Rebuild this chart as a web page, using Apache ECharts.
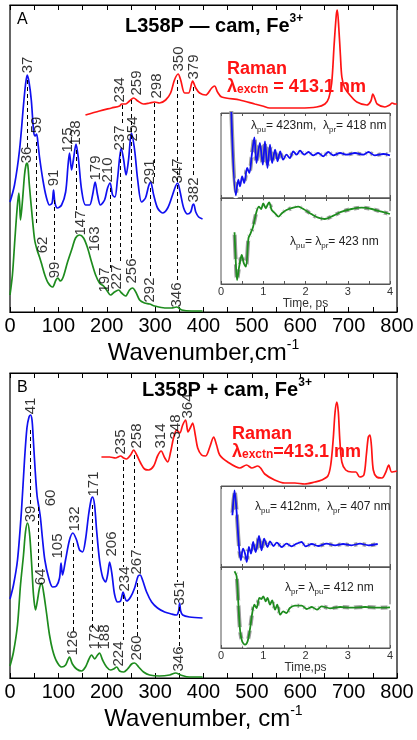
<!DOCTYPE html>
<html><head><meta charset="utf-8">
<script src="https://cdn.jsdelivr.net/npm/echarts@6/dist/echarts.min.js"></script>
<style>html,body{margin:0;padding:0;background:#fff}#c{width:417px;height:740px}</style>
</head><body><div id="c"></div>
<script>
// ---------- Panel A (L358P - cam) : [wavenumber cm-1, intensity a.u.] ----------
const blueA = [[0,110],[9.3,127],[19.7,162],[27.9,207],[32,227],[35.6,237],[39.3,230],[44,212],[49,180],[52,176],[55,178],[58,168],[61,155],[68,132],[75,115],[81.7,107],[87,109],[90,122],[93,109],[98,104],[106.6,107],[115,120],[120,147],[123,159],[127.3,142],[131,152],[136.5,168],[141.7,152],[148,122],[156,107],[164.5,107],[170.7,117],[176,130],[181,117],[187,107],[195.5,112],[201.7,124],[207,129],[212,117],[217,115],[222,132],[230,164],[235,152],[240,137],[245,152],[251,179],[257.6,162],[264,132],[272,110],[280,114],[286.6,126],[290.7,130],[297,117],[305,104],[315.5,99],[326,104],[336,117],[342.4,126],[346.6,129],[351.7,120],[359,104],[367,98],[373.5,100],[377.6,107],[379.7,108],[384,100],[390,95],[398,93]];
const greenA = [[0,17],[5,37],[10,72],[14.5,102],[18.2,119],[20,108],[21.7,92],[25.9,112],[30,137],[33,147],[35,149],[37,146],[40,127],[46,95],[51,72],[56,62],[61,55],[66,47],[72,37],[79,29],[88,25],[95,32],[99,34],[104,31],[110,35],[119,50],[128.6,64],[135.5,74],[143.8,77],[152,74],[160.4,64],[168.6,50],[177,37],[185,29],[193.5,26],[199.7,22],[208,17],[216,20],[224.5,22],[230.7,19],[239,16],[247,22],[253.5,24],[260,20],[268,12],[278,9],[288.6,8],[299,6],[320,4],[334,4],[344.5,5],[355,2],[375,1],[398,1]];
const redA = [[156,197],[185,201],[210,204],[226.6,206],[230.7,208],[239,208],[247,211],[255.5,214],[264,211],[276,208],[288.6,209],[299,210],[309,209],[321.7,212],[332,219],[340,232],[347.6,238],[352.8,232],[361,219],[369,219],[377.6,231],[384,224],[392,219],[404.5,217],[417,224],[423,226],[429,220],[437.6,215],[475,212],[506,208],[522,206],[537,204],[599,204],[634,205],[651,208],[659,214],[665,229],[670,267],[674.5,297],[676.6,302],[679.7,284],[683,257],[686,235],[692,224],[702.5,217],[717,210],[737.6,207],[746,211],[750,218],[754.6,213],[759,208],[775,205],[785,207],[790,209],[795.6,208],[800,208]];
const peakLabelsA = [[36.2,247,'37'],[54.8,187,'59'],[90,134,'91'],[119,172,'125'],[135.5,179,'138'],[177,144,'179'],[201.7,142,'210'],[226.6,174,'237'],[253.5,183,'254'],[288.6,140,'291'],[346.6,141,'347'],[379.7,122,'382'],
  [226.6,222,'234'],[261.7,229,'259'],[303,226,'298'],[348.6,253,'350'],[379.7,245,'379'],
  [34,157,'36'],[67,67,'62'],[92,42,'99'],[146,89,'147'],[175,73,'163'],[195.5,32,'197'],[220.5,35,'227'],[252,41,'256'],[290,22,'292'],[345.5,17,'346']];
const dashA = [[35.2,232,165],[54.8,170,87],[92,112,50],[137.6,162,100],[208,124,44],[228.6,160,50],[231.7,207,187],[251.4,212,52],[299,209,132],[290.7,124,34],[346.6,232,30],[379.7,225,134]];

// ---------- Panel B (L358P + cam) ----------
const blueB = [[0,79],[7.2,93],[15.5,118],[23.8,168],[30,218],[35,250],[39.3,261],[42.4,263],[45.5,258],[48,240],[52,208],[56,182],[60,170],[63,160],[67,140],[72,118],[80,100],[88,91],[96,92],[102.4,100],[105.5,115],[108.6,103],[114.8,118],[123,138],[130,145],[137.6,138],[143.8,128],[150,126],[156,138],[162.4,163],[167.6,178],[170.7,181],[174.8,173],[179,148],[185,118],[191.4,101],[197.6,96],[201.7,103],[206,116],[211,103],[216,84],[222.4,76],[228.6,77],[233.8,86],[237,81],[241,77],[249.3,81],[257.6,90],[264.8,102],[269,103],[274,98],[282.4,86],[292.8,76],[305,70],[319.7,66],[334,64],[344.5,63],[348.6,67],[350.7,75],[352.8,67],[357,63],[371,61],[398,60]];
const greenB = [[0,12],[7.2,26],[15.5,53],[21.7,93],[27.9,123],[32,146],[36.2,155],[40.3,145],[44.5,116],[48.6,83],[52.8,68],[56.9,78],[61,90],[65.2,95],[69.3,86],[75.5,65],[81.7,43],[88,28],[96,17],[106.6,11],[115,13],[123,21],[129,14],[137.6,9],[148,7],[156,11],[162.4,18],[168.6,23],[175,19],[181,23],[185,25],[191.4,18],[199.7,11],[208,8],[214,9],[220.4,11],[226.6,7],[235,6],[243,9],[251.4,14],[257.6,15],[266,11],[276,6],[288.6,3],[309,2],[330,3],[342.4,5],[352.8,3],[371,1],[398,1]];
const redB = [[189,221],[206,221],[218,220],[228.6,222],[235,220],[241,219],[249.3,223],[255.5,228],[262,223],[270,215],[278,209],[286.6,208],[297,212],[305,222],[312.4,227],[320,220],[326,216],[332,226],[338,240],[344.5,248],[351,245],[357,253],[363,258],[368,246],[373.5,251],[377.6,255],[383,243],[388,230],[396,223],[404.5,222],[413,231],[421,241],[427,233],[433.5,223],[450,216],[475,210],[489,213],[500,210],[512,212],[518,210],[526.6,204],[547,198],[568,195],[589,195],[609,194],[630,196],[644.5,198],[657,202],[663,213],[668,238],[672,266],[675.6,276],[678.7,266],[681.8,238],[686,216],[694,208],[706.6,206],[715,206],[723,201],[731.5,203],[736.6,223],[740.7,241],[744,243],[747,233],[751,208],[758,201],[769,200],[777,206],[783,213],[789,206],[800,207]];
const peakLabelsB = [[42.4,272,'41'],[84,180,'60'],[98,132,'105'],[133.5,159,'132'],[172.8,194,'171'],[210,134,'206'],[237,99,'234'],[261.7,116,'267'],[350.7,85,'351'],
  [42.4,164,'39'],[63,101,'64'],[129,35,'126'],[175.8,41,'172'],[195.5,41,'188'],[224.5,24,'224'],[262.8,30,'260'],[348.6,19,'346'],
  [228.6,236,'235'],[261.7,242,'258'],[311.4,242,'314'],[342.4,251,'348'],[367,272,'364']];
const dashB = [[42.4,248,173],[59,171,111],[131.4,135,46],[170.7,173,50],[234.8,218,111],[234.8,83,38],[257.6,223,130],[263.8,95,41],[346.6,238,96],[350.7,71,28]];

// ---------- Insets : [time ps, signal a.u.] ----------
const insetAup = [[0.24,92],[0.35,2.7],[0.41,18.3],[0.45,11.7],[0.50,21.7],[0.55,15],[0.62,30],[0.67,25],[0.73,43.3],[0.79,60.7],[0.84,35],[0.92,55],[0.99,33.3],[1.04,56.7],[1.10,30],[1.16,53.3],[1.21,35],[1.28,48.3],[1.34,36.7],[1.40,46.7],[1.47,38.3],[1.55,43.3],[1.63,40],[1.71,46.7],[1.79,43.3],[1.87,47.3],[1.97,43.3],[2.07,46],[2.18,42.7],[2.30,45],[2.42,41.7],[2.54,46],[2.66,42.7],[2.82,45],[2.97,43.3],[3.17,45],[3.37,43.3],[3.49,46],[3.64,42.7],[3.84,44],[4.0,42.7]];
const insetAlow = [[0.32,51.7],[0.35,22.3],[0.38,4],[0.43,17.3],[0.49,29],[0.54,20.7],[0.59,17.3],[0.65,45.7],[0.70,50.7],[0.76,57.3],[0.84,72.3],[0.90,77.3],[0.95,75],[1.0,80.7],[1.06,75.7],[1.10,79],[1.14,81.7],[1.20,74],[1.28,70.7],[1.36,67.3],[1.44,70.7],[1.55,74],[1.71,76.3],[1.83,77.3],[1.95,75],[2.15,69.7],[2.30,66.3],[2.46,65],[2.66,68.3],[2.86,72.3],[3.09,75],[3.33,76.3],[3.57,75],[3.80,72.3],[4.0,70]];
const insetBup = [[0.27,51.7],[0.32,76.7],[0.37,55],[0.43,18.3],[0.47,6.7],[0.52,18.3],[0.57,13.3],[0.61,5],[0.66,20],[0.71,13.3],[0.76,25],[0.82,15],[0.90,31],[0.96,16.7],[1.02,28.3],[1.10,20],[1.16,25.7],[1.24,21],[1.32,24.3],[1.44,20],[1.55,23.3],[1.67,20.7],[1.79,23.3],[1.91,25],[2.0,20.7],[2.15,23],[2.30,21],[2.50,23.3],[2.70,21.7],[2.89,23],[3.09,21.7],[3.29,23.3],[3.49,21.7],[3.71,23]];
const insetBlow = [[0.32,76.7],[0.37,71.7],[0.41,45],[0.45,18.3],[0.50,6.7],[0.57,3.3],[0.63,6.7],[0.69,20],[0.74,35],[0.79,43.3],[0.84,40],[0.91,50],[0.96,49],[1.0,51.7],[1.06,46.7],[1.10,50],[1.16,43.3],[1.21,47.7],[1.28,38.3],[1.33,43.3],[1.40,33.3],[1.47,36.7],[1.55,35],[1.63,40],[1.75,42.3],[1.91,42.3],[2.03,39],[2.15,41],[2.27,38.3],[2.38,41.7],[2.58,39.7],[2.82,41],[3.09,40.3],[3.41,41],[3.72,40.3],[4.0,40.7]];

const FN = "'Liberation Sans Narrow','Arial Narrow','Liberation Sans',Arial,sans-serif";
const F = "'Liberation Sans',Arial,sans-serif";
const BLUE = '#1010f0', GREEN = '#1e8c1e', RED = '#ff1414';

function mainX(grid, name) {
  return [{
    gridIndex: grid, type: 'value', min: 0, max: 800, interval: 100, position: 'bottom',
    axisLine: {show: true, lineStyle: {color: '#000', width: 1.2}},
    axisTick: {show: true, inside: true, length: 5, lineStyle: {color: '#000'}},
    minorTick: {show: true, splitNumber: 2, length: 5, lineStyle: {color: '#000'}},
    axisLabel: {fontFamily: FN, fontSize: 20, color: '#000', margin: 4},
    splitLine: {show: false}, minorSplitLine: {show: false},
    name: name, nameLocation: 'middle', nameGap: 26,
    nameTextStyle: {rich: {n: {fontFamily: FN, fontSize: 24, color: '#000', lineHeight: 30}, s: {fontFamily: FN, fontSize: 14, color: '#000', verticalAlign: 'top', lineHeight: 14}}}
  }, {
    gridIndex: grid, type: 'value', min: 0, max: 800, interval: 100, position: 'top',
    axisLine: {show: true, lineStyle: {color: '#000', width: 1.2}},
    axisTick: {show: true, inside: true, length: 5, lineStyle: {color: '#000'}},
    minorTick: {show: true, splitNumber: 2, length: 5, lineStyle: {color: '#000'}},
    axisLabel: {show: false}, splitLine: {show: false}
  }];
}
function insetX(grid, labels, name) {
  return [{
    gridIndex: grid, type: 'value', min: 0, max: 4, interval: 1, position: 'bottom',
    axisLine: {show: true, lineStyle: {color: '#555'}},
    axisTick: {show: true, inside: true, length: 3, lineStyle: {color: '#555'}},
    minorTick: {show: true, splitNumber: 2, length: 3, lineStyle: {color: '#555'}},
    axisLabel: {show: labels, fontFamily: F, fontSize: 11, color: '#333', margin: 2},
    splitLine: {show: false},
    name: labels ? name : '', nameLocation: 'middle', nameGap: 12,
    nameTextStyle: {fontFamily: F, fontSize: 12, color: '#333'}
  }, {
    gridIndex: grid, type: 'value', min: 0, max: 4, interval: 1, position: 'top',
    axisLine: {show: true, lineStyle: {color: '#555'}},
    axisTick: {show: true, inside: true, length: 3, lineStyle: {color: '#555'}},
    minorTick: {show: true, splitNumber: 2, length: 3, lineStyle: {color: '#555'}},
    axisLabel: {show: false}, splitLine: {show: false}
  }];
}
function hiddenY(grid, max) {
  return {gridIndex: grid, type: 'value', min: 0, max: max, show: false, splitLine: {show: false}};
}
function spectrum(data, color, xi, yi, dash) {
  const s = {type: 'line', data: data, xAxisIndex: xi, yAxisIndex: yi, smooth: 0.3, showSymbol: false, silent: true,
    lineStyle: {color: color, width: 1.7}, z: 3};
  if (dash) {
    s.markLine = {silent: true, symbol: ['none', 'none'], animation: false, label: {show: false},
      lineStyle: {type: [4, 3], color: '#000', width: 1},
      data: dash.map(d => [{coord: [d[0], d[1]]}, {coord: [d[0], d[2]]}])};
  }
  return s;
}
function peakLabels(arr, xi, yi) {
  return {type: 'scatter', xAxisIndex: xi, yAxisIndex: yi, symbolSize: 0, silent: true, z: 5,
    data: arr.map(d => ({name: d[2], value: [d[0], d[1]]})),
    label: {show: true, position: 'inside', rotate: 90, formatter: '{b}', fontFamily: FN, fontSize: 15, color: '#000'}};
}
function insetSeries(data, color, xi, yi) {
  return [{type: 'line', data: data, xAxisIndex: xi, yAxisIndex: yi, smooth: 0.3, silent: true,
      symbol: 'emptyCircle', symbolSize: 4, showSymbol: true,
      itemStyle: {color: '#fff', borderColor: '#8a8a8a', borderWidth: 1},
      lineStyle: {color: '#9a9a9a', width: 4}, z: 3},
    {type: 'line', data: data, xAxisIndex: xi, yAxisIndex: yi, smooth: 0.3, showSymbol: false, silent: true,
      lineStyle: {color: color, width: 1.8}, z: 4}];
}
function lam(a, b, c, d, e) {
  return '{a|' + a + '}{s|' + b + '}{a|' + c + '}' + (d ? '{s|' + d + '}{a|' + e + '}' : '');
}
const insetRich = {a: {fontFamily: F, fontSize: 12, fontWeight: 'normal', color: '#222', lineHeight: 16}, s: {fontFamily: F, fontSize: 8, fontWeight: 'normal', color: '#222', verticalAlign: 'bottom', lineHeight: 9}};
const titleRich = {t: {fontFamily: FN, fontSize: 20, fontWeight: 'bold', color: '#000', lineHeight: 26}, s: {fontFamily: FN, fontSize: 12, fontWeight: 'bold', color: '#000', verticalAlign: 'top', lineHeight: 12}};
const ramanRich = {r: {fontFamily: FN, fontSize: 18, fontWeight: 'bold', color: RED, lineHeight: 18}, s: {fontFamily: FN, fontSize: 12, fontWeight: 'bold', color: RED, verticalAlign: 'bottom', lineHeight: 12}};

const chart = echarts.init(document.getElementById('c'), null, {renderer: 'canvas'});
chart.setOption({
  animation: false,
  backgroundColor: '#fff',
  title: [
    {text: 'A', left: 12, top: 7, textStyle: {fontFamily: F, fontSize: 16, fontWeight: 'normal', color: '#000'}},
    {text: '{t|L358P \u2014 cam, Fe}{s|3+}', left: 120, top: 8, textStyle: {rich: titleRich}},
    {text: '{r|Raman}\n{r|\u03bb}{s|exctn}{r| = 413.1 nm}', left: 222, top: 55, textStyle: {rich: ramanRich}},
    {text: lam('\u03bb', 'pu', '= 423nm,  \u03bb', 'pr', '= 418 nm'), left: 246, top: 113, textStyle: {fontWeight: 'normal', rich: insetRich}},
    {text: lam('\u03bb', 'pu', '= \u03bb', 'pr', '= 423 nm'), left: 285, top: 229, textStyle: {fontWeight: 'normal', rich: insetRich}},
    {text: 'B', left: 12, top: 375, textStyle: {fontFamily: F, fontSize: 16, fontWeight: 'normal', color: '#000'}},
    {text: '{t|L358P + cam, Fe}{s|3+}', left: 137, top: 372, textStyle: {rich: titleRich}},
    {text: '{r|Raman}\n{r|\u03bb}{s|exctn}{r|=413.1 nm}', left: 227, top: 420, textStyle: {rich: ramanRich}},
    {text: lam('\u03bb', 'pu', '= 412nm,  \u03bb', 'pr', '= 407 nm'), left: 250, top: 494, textStyle: {fontWeight: 'normal', rich: insetRich}},
    {text: lam('\u03bb', 'pr', '= \u03bb', 'pu', '= 412 nm'), left: 280, top: 575, textStyle: {fontWeight: 'normal', rich: insetRich}}
  ],
  grid: [
    {left: 10, top: 5, width: 387, height: 307, show: true, borderColor: '#000', borderWidth: 1.2, backgroundColor: 'transparent'},
    {left: 10, top: 373, width: 387, height: 305, show: true, borderColor: '#000', borderWidth: 1.2, backgroundColor: 'transparent'},
    {left: 221, top: 113, width: 169, height: 85, show: true, borderColor: '#555', borderWidth: 1, backgroundColor: '#fff'},
    {left: 221, top: 198, width: 169, height: 86, show: true, borderColor: '#555', borderWidth: 1, backgroundColor: '#fff'},
    {left: 221, top: 486, width: 169, height: 81, show: true, borderColor: '#555', borderWidth: 1, backgroundColor: '#fff'},
    {left: 221, top: 567, width: 169, height: 81, show: true, borderColor: '#555', borderWidth: 1, backgroundColor: '#fff'}
  ],
  xAxis: [].concat(
    mainX(0, '{n|Wavenumber,cm}{s|-1}'),
    mainX(1, '{n|Wavenumber, cm}{s|-1}'),
    insetX(2, false, ''),
    insetX(3, true, 'Time, ps'),
    insetX(4, false, ''),
    insetX(5, true, 'Time,ps')
  ),
  yAxis: [hiddenY(0, 307), hiddenY(1, 305), hiddenY(2, 85), hiddenY(3, 86), hiddenY(4, 81), hiddenY(5, 81)],
  series: [].concat(
    [spectrum(redA, RED, 0, 0), spectrum(blueA, BLUE, 0, 0, dashA), spectrum(greenA, GREEN, 0, 0), peakLabels(peakLabelsA, 0, 0)],
    [spectrum(redB, RED, 2, 1), spectrum(blueB, BLUE, 2, 1, dashB), spectrum(greenB, GREEN, 2, 1), peakLabels(peakLabelsB, 2, 1)],
    insetSeries(insetAup, BLUE, 4, 2),
    insetSeries(insetAlow, GREEN, 6, 3),
    insetSeries(insetBup, BLUE, 8, 4),
    insetSeries(insetBlow, GREEN, 10, 5)
  )
});
</script></body></html>
